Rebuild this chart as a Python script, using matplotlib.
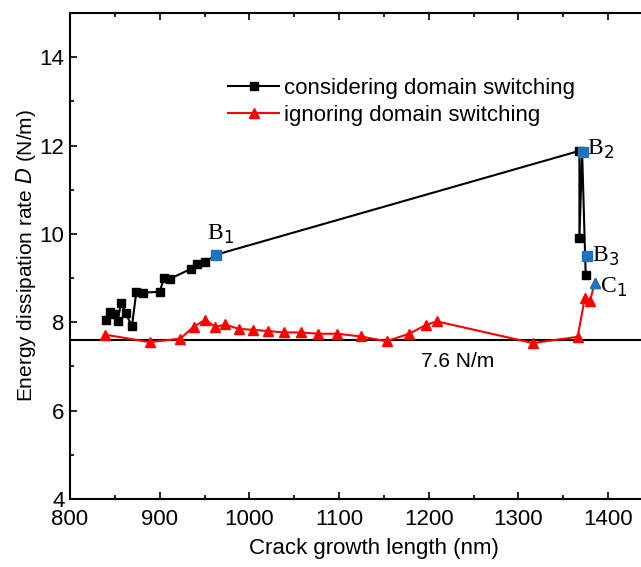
import numpy as np
import matplotlib
matplotlib.use("Agg")
import matplotlib.pyplot as plt
from matplotlib.ticker import MultipleLocator

# considering domain switching (black squares)
x_cons = [840, 845, 849, 853, 857, 862, 869, 874, 881, 900, 905, 911, 935, 942, 951, 963,
          1368, 1368, 1371, 1375]
y_cons = [8.05, 8.24, 8.18, 8.02, 8.44, 8.21, 7.91, 8.69, 8.67, 8.69, 9.01, 8.98, 9.21, 9.31, 9.37, 9.53,
          11.88, 9.90, 11.85, 9.06]

# ignoring domain switching (red triangles)
x_ign = [839, 889, 923, 938, 951, 962, 973, 988, 1004, 1021, 1039, 1058, 1077, 1098, 1124,
         1153, 1178, 1197, 1209, 1316, 1366, 1374, 1380, 1385]
y_ign = [7.72, 7.55, 7.63, 7.90, 8.06, 7.89, 7.95, 7.85, 7.83, 7.80, 7.77, 7.77, 7.74, 7.74, 7.68,
         7.57, 7.74, 7.94, 8.02, 7.53, 7.67, 8.55, 8.49, 8.90]

# highlighted points
b_x = [963, 1372, 1377]
b_y = [9.53, 11.85, 9.50]
b_labels = ["B$_1$", "B$_2$", "B$_3$"]
c_x, c_y = 1385, 8.90

ref_level = 7.6

fig = plt.figure(figsize=(6.41, 5.67), dpi=100)
ax = fig.add_axes([70 / 641, 1 - 499 / 567, 574 / 641, 486 / 567])

ax.axhline(ref_level, color="black", lw=1.5, zorder=1)
ax.plot(x_cons, y_cons, "-s", color="black", lw=1.5, ms=5.5,
        label="considering domain switching", zorder=3)
ax.plot(x_ign, y_ign, "-^", color="red", lw=1.5, ms=7,
        label="ignoring domain switching", zorder=3)
ax.plot(b_x, b_y, "s", color="#1E73BE", ms=7, ls="none", zorder=4)
ax.plot([c_x], [c_y], "^", color="#1E73BE", ms=7, ls="none", zorder=4)

serif = dict(family="Liberation Serif", fontsize=17)
ax.text(953, 9.98, b_labels[0], ha="left", va="center", **serif)
ax.text(1377, 11.92, b_labels[1], ha="left", va="center", **serif)
ax.text(1382, 9.49, b_labels[2], ha="left", va="center", **serif)
ax.text(1391, 8.79, "C$_1$", ha="left", va="center", **serif)
ax.text(1232, 7.11, "7.6 N/m", ha="center", va="center", fontsize=15,
        family="Liberation Sans")

ax.set_xlim(800, 1440)
ax.set_ylim(4, 15)
ax.xaxis.set_major_locator(MultipleLocator(100))
ax.xaxis.set_minor_locator(MultipleLocator(50))
ax.yaxis.set_major_locator(MultipleLocator(2))
ax.yaxis.set_minor_locator(MultipleLocator(1))
ax.tick_params(which="both", direction="in", top=True, right=False,
               labelsize=16, width=1.2)
ax.tick_params(which="major", length=5)
ax.tick_params(which="minor", length=3)
ax.tick_params(axis="x", pad=7)
ax.tick_params(axis="y", pad=4)
for lab in ax.get_xticklabels() + ax.get_yticklabels():
    lab.set_family("Liberation Sans")
for s in ax.spines.values():
    s.set_linewidth(1.5)

ax.set_xlabel("Crack growth length (nm)", fontsize=16, family="Liberation Sans", labelpad=6)
ax.xaxis.label.set_x(0.53)
ax.set_ylabel("Energy dissipation rate $D$ (N/m)", fontsize=15, family="Liberation Sans",
              labelpad=1)

leg = ax.legend(loc="upper left", bbox_to_anchor=(0.26, 0.884), frameon=False,
                prop=dict(family="Liberation Sans", size=16), handlelength=2.3,
                handletextpad=0.22, borderaxespad=0, labelspacing=0.25)

fig.savefig("out.png", dpi=100)
